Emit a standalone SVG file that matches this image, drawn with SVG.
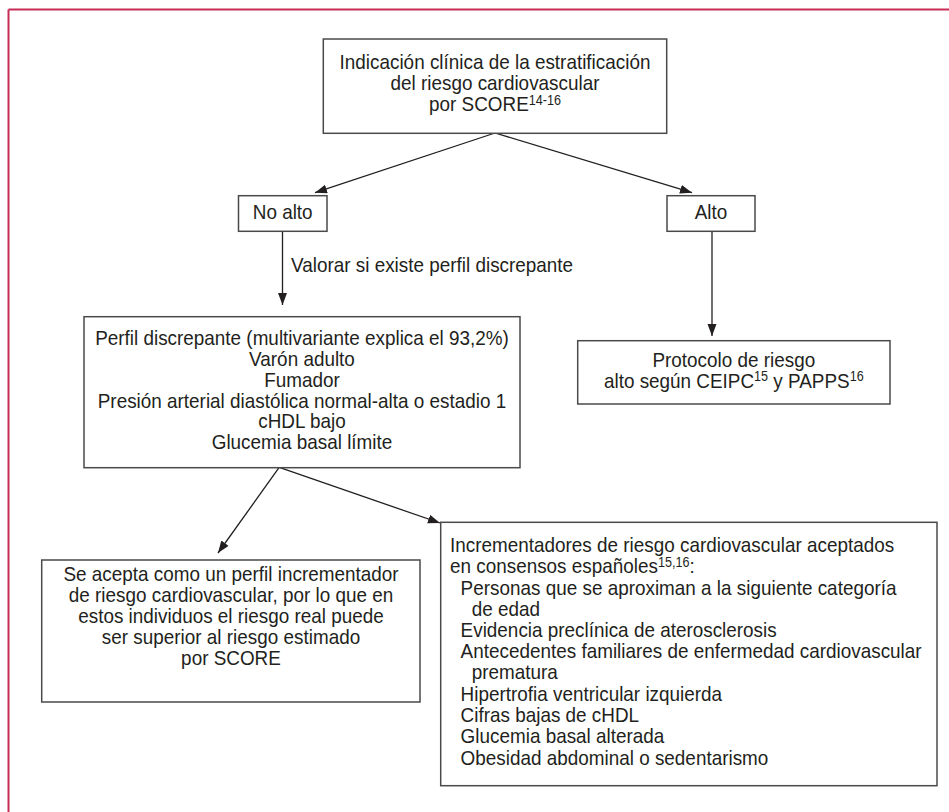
<svg xmlns="http://www.w3.org/2000/svg" width="949" height="812" viewBox="0 0 949 812">
<defs>
<style>
.t{font-family:"Liberation Sans",Arial,sans-serif;font-size:21px;fill:#231f20}
.mid{text-anchor:middle}
.sup{font-size:14px}
.box{fill:#fff;stroke:#4a4a4a;stroke-width:1.5}
.arr{stroke:#231f20;stroke-width:1.3;fill:none;marker-end:url(#ah)}
</style>
<marker id="ah" markerUnits="userSpaceOnUse" markerWidth="13" markerHeight="10" refX="12" refY="4.5" orient="auto">
<path d="M0,0 L12,4.5 L0,9 z" fill="#231f20"/>
</marker>
</defs>
<rect width="949" height="812" fill="#fff"/>
<g id="frame" stroke="#c72c57" stroke-width="2" fill="none">
<line x1="8.5" y1="9.5" x2="949" y2="9.5"/>
<line x1="8.5" y1="9.5" x2="8.5" y2="812"/>
</g>
<g id="connectors">
<line class="arr" x1="495" y1="133" x2="315" y2="192.7"/>
<line class="arr" x1="495" y1="133" x2="692" y2="192.7"/>
<line class="arr" x1="282.5" y1="231.3" x2="282.5" y2="305"/>
<line class="arr" x1="712" y1="231.3" x2="712" y2="336"/>
<line class="arr" x1="279" y1="467.7" x2="218" y2="553"/>
<line class="arr" x1="280" y1="467.7" x2="440" y2="523"/>
<g transform="matrix(0.9,0,0,1,29.1,0)"><text class="t" x="291" y="272">Valorar si existe perfil discrepante</text></g>
</g>
<g id="n_top">
<rect class="box" x="323.3" y="39" width="343.4" height="94.3"/>
<g transform="matrix(0.9,0,0,1,49.5,0)">
<text class="t mid" x="495" y="69">Indicación clínica de la estratificación</text>
<text class="t mid" x="495" y="90">del riesgo cardiovascular</text>
<text class="t mid" x="495" y="111">por SCORE<tspan class="sup" dy="-6">14-16</tspan></text>
</g>
</g>
<g id="n_noalto">
<rect class="box" x="238.5" y="195.7" width="88.5" height="35.6"/>
<g transform="matrix(0.9,0,0,1,28.27,0)"><text class="t mid" x="282.7" y="219.5">No alto</text></g>
</g>
<g id="n_alto">
<rect class="box" x="667" y="195.7" width="88" height="35.6"/>
<g transform="matrix(0.9,0,0,1,71.1,0)"><text class="t mid" x="711" y="219.5">Alto</text></g>
</g>
<g id="n_perfil">
<rect class="box" x="84" y="316.7" width="436" height="151"/>
<g transform="matrix(0.9,0,0,1,30.2,0)">
<text class="t mid" x="302" y="345">Perfil discrepante (multivariante explica el 93,2%)</text>
<text class="t mid" x="302" y="366">Varón adulto</text>
<text class="t mid" x="302" y="387">Fumador</text>
<text class="t mid" x="302" y="408">Presión arterial diastólica normal-alta o estadio 1</text>
<text class="t mid" x="302" y="428.5">cHDL bajo</text>
<text class="t mid" x="302" y="449">Glucemia basal límite</text>
</g>
</g>
<g id="n_protocolo">
<rect class="box" x="577.7" y="340.7" width="312.3" height="63.3"/>
<g transform="matrix(0.9,0,0,1,73.38,0)">
<text class="t mid" x="733.8" y="366.7">Protocolo de riesgo</text>
<text class="t mid" x="733.8" y="388.3">alto según CEIPC<tspan class="sup" dy="-7">15</tspan><tspan dy="7"> y PAPPS</tspan><tspan class="sup" dy="-7">16</tspan></text>
</g>
</g>
<g id="n_acepta">
<rect class="box" x="41.7" y="560" width="378.3" height="142"/>
<g transform="matrix(0.9,0,0,1,23.1,0)">
<text class="t mid" x="231" y="581">Se acepta como un perfil incrementador</text>
<text class="t mid" x="231" y="602">de riesgo cardiovascular, por lo que en</text>
<text class="t mid" x="231" y="623">estos individuos el riesgo real puede</text>
<text class="t mid" x="231" y="644">ser superior al riesgo estimado</text>
<text class="t mid" x="231" y="665">por SCORE</text>
</g>
</g>
<g id="n_incrementadores">
<rect class="box" x="440.7" y="522.3" width="496.3" height="263.4"/>
<g transform="matrix(0.9,0,0,1,45,0)">
<text class="t" x="450" y="552.5">Incrementadores de riesgo cardiovascular aceptados</text>
<text class="t" x="450" y="573.5">en consensos españoles<tspan class="sup" dy="-6">15,16</tspan><tspan dy="6">:</tspan></text>
<text class="t" x="461.8" y="595">Personas que se aproximan a la siguiente categoría</text>
<text class="t" x="474.2" y="616">de edad</text>
<text class="t" x="461.8" y="637">Evidencia preclínica de aterosclerosis</text>
<text class="t" x="461.8" y="658.3">Antecedentes familiares de enfermedad cardiovascular</text>
<text class="t" x="474.2" y="679.5">prematura</text>
<text class="t" x="461.8" y="700.7">Hipertrofia ventricular izquierda</text>
<text class="t" x="461.8" y="722">Cifras bajas de cHDL</text>
<text class="t" x="461.8" y="743.3">Glucemia basal alterada</text>
<text class="t" x="461.8" y="764.6">Obesidad abdominal o sedentarismo</text>
</g>
</g>
</svg>
